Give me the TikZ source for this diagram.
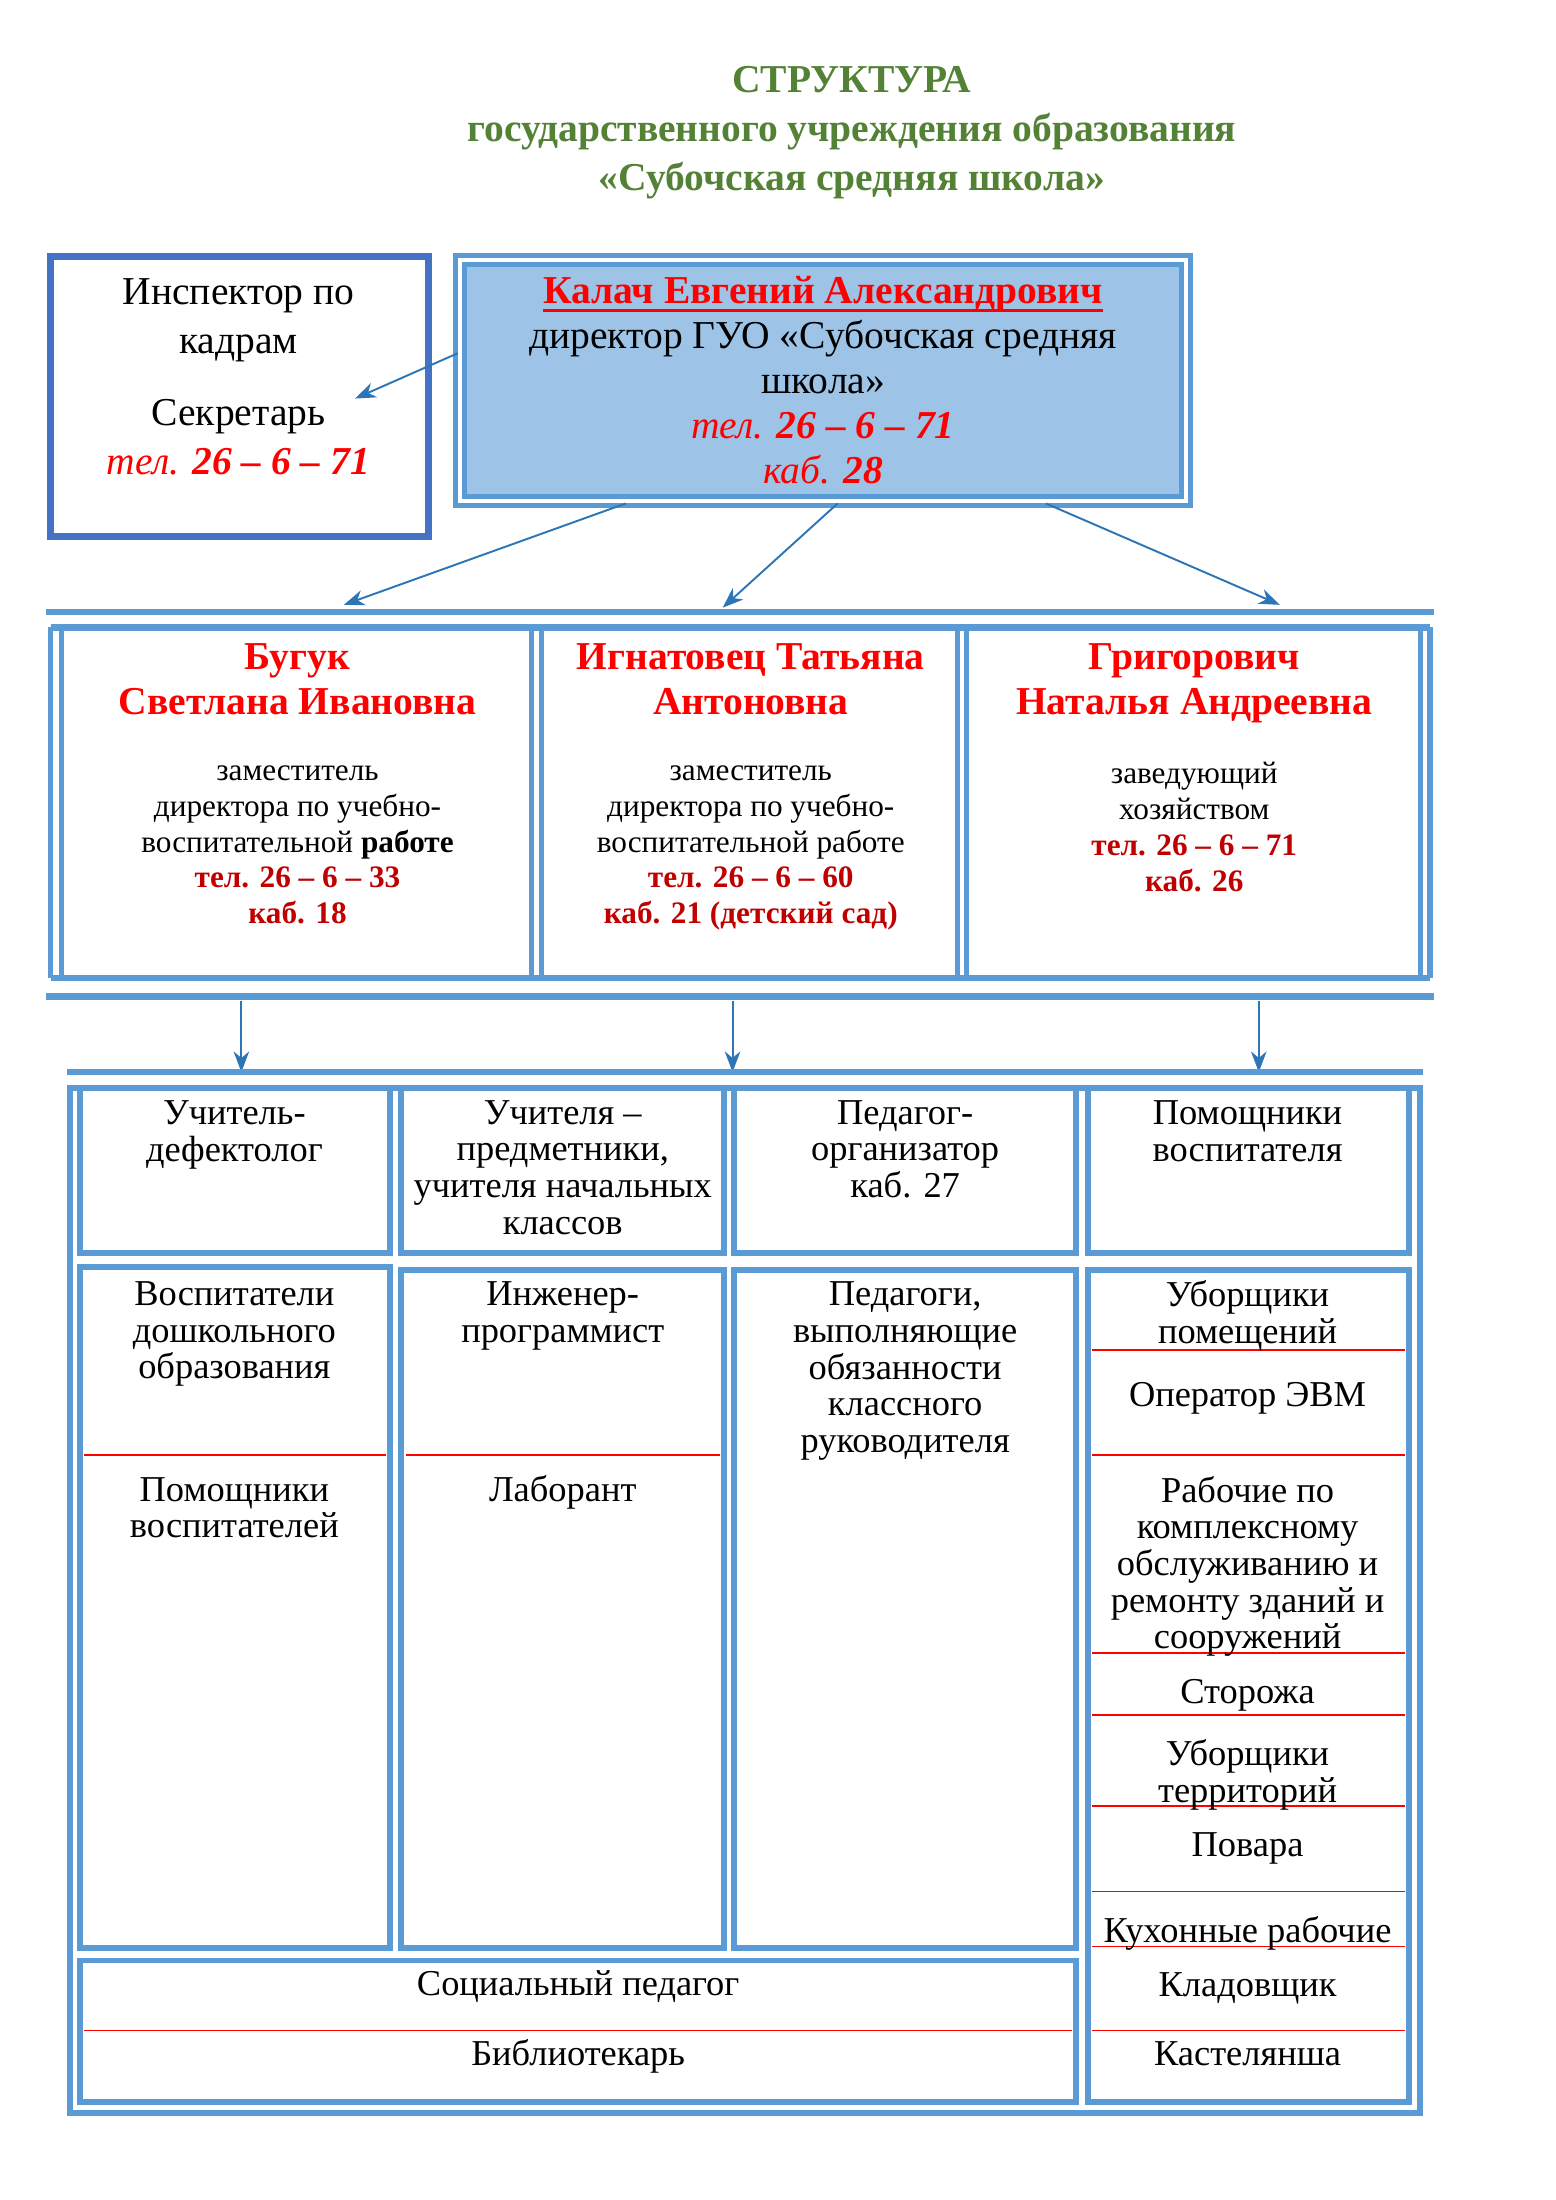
\documentclass[tikz,border=0pt]{standalone}
\usepackage{fontspec}
\setmainfont{Liberation Serif}
\usetikzlibrary{arrows.meta,calc}
\definecolor{lblue}{HTML}{5B9BD5}
\definecolor{dblue}{HTML}{4472C4}
\definecolor{ablue}{HTML}{2E75B6}
\definecolor{dfill}{HTML}{9DC3E6}
\definecolor{tgreen}{HTML}{538135}
\definecolor{nred}{HTML}{FF0000}
\definecolor{dred}{HTML}{C00000}
\newcommand\ftitle{\fontsize{15.3}{19.05}\selectfont\bfseries}
\newcommand\fbig{\fontsize{15.3}{19.05}\selectfont}
\newcommand\fdir{\fontsize{15.3}{17.35}\selectfont}
\newcommand\fname{\fontsize{15.3}{17.45}\selectfont\bfseries}
\newcommand\fsmall{\fontsize{12.1}{13.9}\selectfont}
\newcommand\ftab{\fontsize{14.1}{14.2}\selectfont}
\newcommand\ulthick[1]{\sbox0{#1}\mbox{\rlap{\raisebox{-3pt}{\rule{\wd0}{1.1pt}}}\usebox0}}
\begin{document}
\begin{tikzpicture}[x=0.19091mm, y=-0.19091mm,
  hline/.style={draw=lblue, line width=2.5pt},
  vline/.style={draw=lblue, line width=2pt},
  cell/.style={draw=lblue, line width=2.3pt},
  redsep/.style={draw=nred, line width=0.6pt},
  arr/.style={draw=ablue, line width=0.75pt, -{Stealth[length=8pt,width=6pt,inset=2.5pt]}},
  txt/.style={align=center, inner sep=0pt, yshift=-0.9mm, execute at begin node=\strut, execute at end node=\strut},
  lbl/.style={txt, font=\ftab}]
\useasboundingbox (0,0) rectangle (1108.5,1567.7);
% title
\node[txt, font=\ftitle, text=tgreen] (title) at (607,92)
  {СТРУКТУРА\\государственного учреждения образования\\«Субочская средняя школа»};
% inspector
\node[draw=dblue, line width=2.7pt, minimum width=269*0.19091mm, minimum height=199*0.19091mm] (insp) at (170.5,282.5) {};
\node[txt, font=\fbig] (insp-a) at (170,225.5) {Инспектор по\\кадрам};
\node[txt, font=\fbig] (insp-b) at (170,312)
  {Секретарь\\\textcolor{nred}{\textit{тел.} \textbf{\textit{26 – 6 – 71}}}};
% director
\node[draw=lblue, line width=1.9pt, double=white, double distance=1.6pt, fill=dfill,
  minimum width=517*0.19091mm, minimum height=172*0.19091mm, align=center, font=\fdir] (dir) at (586.5,271)
  {\textcolor{nred}{\ulthick{\textbf{Калач Евгений Александрович}}}\\директор ГУО «Субочская средняя\\школа»\\
   \textcolor{nred}{\textit{тел.} \textbf{\textit{26 – 6 – 71}}}\\\textcolor{nred}{\textit{каб.} \textbf{\textit{28}}}};
\coordinate (i-tip) at (253,284);
\coordinate (d1) at (245,431);
\coordinate (d2) at (515,433);
\coordinate (d3) at (912,431);
\draw[arr] ($(dir.north west)!0.39!(dir.south west)$) -- (i-tip);
\draw[arr] ($(dir.south west)!0.23!(dir.south east)$) -- (d1);
\draw[arr] ($(dir.south west)!0.52!(dir.south east)$) -- (d2);
\draw[arr] ($(dir.south west)!0.805!(dir.south east)$) -- (d3);
% deputies
\draw[hline] (33,436) -- (1022,436);
\draw[hline] (33,710) -- (1022,710);
\draw[hline] (36,447) -- (1019,447);
\draw[hline] (36,697) -- (1019,697);
\foreach \x in {36,44,379,386,682,689,1012,1019}
  \draw[vline] (\x,447) -- (\x,697);
\node[txt, font=\fname, text=nred] (dep1-name) at (212,484) {Бугук\\Светлана Ивановна};
\node[txt, font=\fname, text=nred] (dep2-name) at (535,484) {Игнатовец Татьяна\\Антоновна};
\node[txt, font=\fname, text=nred] (dep3-name) at (851,484) {Григорович\\Наталья Андреевна};
\node[txt, font=\fsmall] (dep1-info) at (212,601)
  {заместитель\\директора по учебно-\\воспитательной \textbf{работе}\\
   \textcolor{dred}{\textbf{тел. 26 – 6 – 33}}\\\textcolor{dred}{\textbf{каб. 18}}};
\node[txt, font=\fsmall] (dep2-info) at (535,601)
  {заместитель\\директора по учебно-\\воспитательной работе\\
   \textcolor{dred}{\textbf{тел. 26 – 6 – 60}}\\\textcolor{dred}{\textbf{каб. 21 (детский сад)}}};
\node[txt, font=\fsmall] (dep3-info) at (851,588.5)
  {заведующий\\хозяйством\\\textcolor{dred}{\textbf{тел. 26 – 6 – 71}}\\\textcolor{dred}{\textbf{каб. 26}}};
% arrows down
\foreach \x [count=\i] in {172,522,897} {
  \coordinate (b\i) at (\x,713);
  \coordinate (c\i) at (\x,764);
  \draw[arr] (b\i) -- (c\i);
}
% staff table
\draw[hline] (48,764) -- (1014,764);
\draw[cell] (50,775) rectangle (1012,1506);
\draw[cell] (57,775) rectangle (278,893);
\draw[cell] (286,775) rectangle (516,893);
\draw[cell] (523,775) rectangle (767,893);
\draw[cell] (775,775) rectangle (1004,893);
\draw[cell] (57,903) rectangle (278,1388);
\draw[cell] (286,905) rectangle (516,1388);
\draw[cell] (523,905) rectangle (767,1388);
\draw[cell] (775,905) rectangle (1004,1498);
\draw[cell] (57,1397) rectangle (767,1498);
\draw[redsep] (60,1037) -- (275,1037);
\draw[redsep] (289,1037) -- (513,1037);
\draw[redsep] (60,1447) -- (764,1447);
\foreach \y in {962,1037,1178,1222,1287,1348,1387,1447}
  \draw[redsep] (778,\y) -- (1001,\y);
% row 1
\node[lbl] (tA1) at (167,805) {Учитель-\\дефектолог};
\node[lbl] (tB1) at (401,831) {Учителя –\\предметники,\\учителя начальных\\классов};
\node[lbl] (tC1) at (645,818) {Педагог-\\организатор\\каб. 27};
\node[lbl] (tD1) at (889,805) {Помощники\\воспитателя};
% row 2
\node[lbl] (tA2) at (167,947) {Воспитатели\\дошкольного\\образования};
\node[lbl] (tA3) at (167,1073.5) {Помощники\\воспитателей};
\node[lbl] (tB2) at (401,934) {Инженер-\\программист};
\node[lbl] (tB3) at (401,1060) {Лаборант};
\node[lbl] (tC2) at (645,973.5) {Педагоги,\\выполняющие\\обязанности\\классного\\руководителя};
\node[lbl] (tD2) at (889,934) {Уборщики\\помещений};
\node[lbl] (tD3) at (889,992) {Оператор ЭВМ};
\node[lbl] (tD4) at (889,1112.5) {Рабочие по\\комплексному\\обслуживанию и\\ремонту зданий и\\сооружений};
\node[lbl] (tD5) at (889,1204) {Сторожа};
\node[lbl] (tD6) at (889,1261) {Уборщики\\территорий};
\node[lbl] (tD7) at (889,1313) {Повара};
\node[lbl] (tD8) at (889,1374) {Кухонные рабочие};
\node[lbl] (tD9) at (889,1413) {Кладовщик};
\node[lbl] (tD10) at (889,1462) {Кастелянша};
% bottom row
\node[lbl] (tE1) at (412,1412) {Социальный педагог};
\node[lbl] (tE2) at (412,1462) {Библиотекарь};
\end{tikzpicture}
\end{document}
